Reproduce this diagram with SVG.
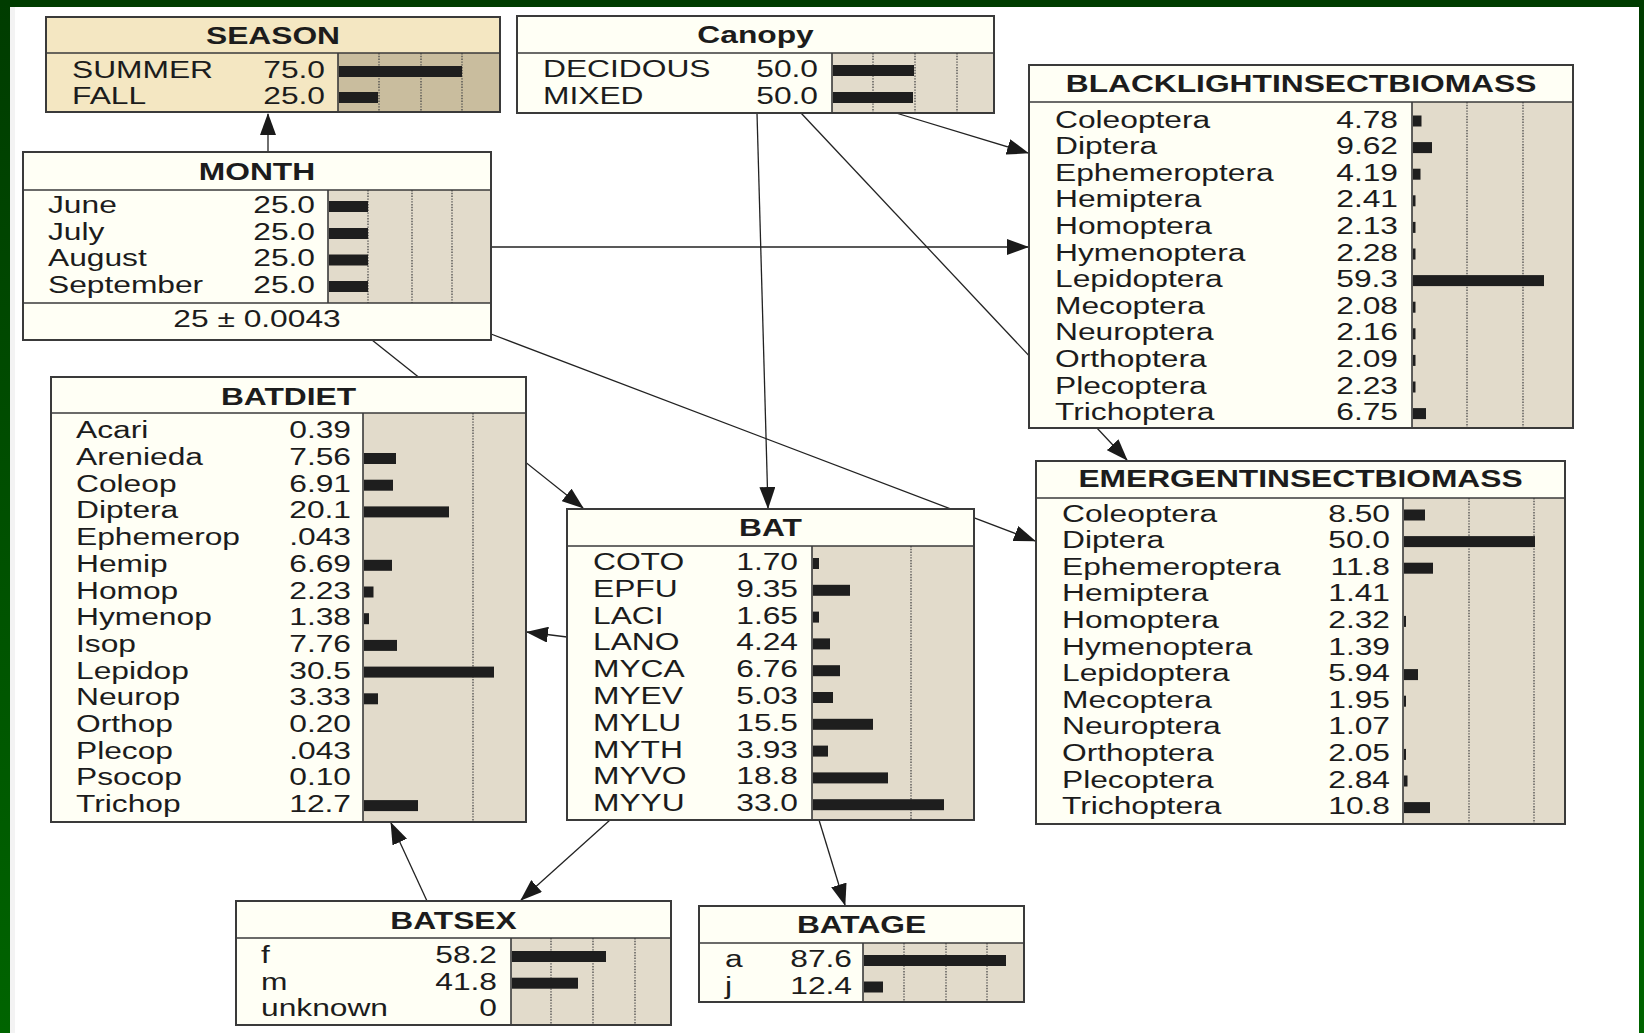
<svg xmlns="http://www.w3.org/2000/svg" width="1644" height="1033" viewBox="0 0 1644 1033">
  <defs>
    <linearGradient id="edgeGreen" x1="0" y1="0" x2="0" y2="1">
      <stop offset="0" stop-color="#003c00"/>
      <stop offset="1" stop-color="#006400"/>
    </linearGradient>
    <marker id="arrow" markerUnits="userSpaceOnUse" markerWidth="22" markerHeight="16" refX="21" refY="8" orient="auto">
      <path d="M0,0 L22,8 L0,16 Z" fill="#1a1a1a"/>
    </marker>
    <style>
      .bx { fill: none; stroke: #3a3a3a; stroke-width: 2; }
      .cream { fill: #fffff5; }
      .tan { fill: #f4e7c2; }
      .barbg { fill: #e2dbcb; }
      .barbg-tan { fill: #c9bd9e; }
      .sep { stroke: #3a3a3a; stroke-width: 1.6; }
      .grid { stroke: #4a4a4a; stroke-width: 1.3; stroke-dasharray: 1.4 1.4; }
      .bar { fill: #1e1e1e; }
      text { font-family: "Liberation Sans", Arial, sans-serif; font-size: 23px; fill: #1c1c1c; }
      .v { text-anchor: end; }
      .ttl { font-weight: bold; text-anchor: middle; }
      .mid { text-anchor: middle; }
      .edge { fill: none; stroke: #222; stroke-width: 1.3; marker-end: url(#arrow); }
      .edge-plain { fill: none; stroke: #222; stroke-width: 1.3; }
    </style>
  </defs>

  <!-- slide background and frame -->
  <rect x="0" y="0" width="1644" height="1033" fill="#ffffff"/>
  <rect x="0" y="0" width="1644" height="7" fill="#003c00"/>
  <rect x="0" y="0" width="10" height="1033" fill="url(#edgeGreen)"/>
  <rect x="10" y="7" width="5" height="1026" fill="#f3f3f3"/>
  <rect x="1639" y="0" width="5" height="1033" fill="url(#edgeGreen)"/>

  <!-- links between nodes -->
  <g id="connectors">
    <line class="edge" x1="268" y1="152" x2="268" y2="114"/>
    <line class="edge" x1="896" y1="113" x2="1028" y2="153"/>
    <line class="edge" x1="491" y1="247" x2="1028" y2="247"/>
    <line class="edge" x1="757" y1="113" x2="768" y2="508"/>
    <line class="edge" x1="801" y1="113" x2="1127" y2="460"/>
    <line class="edge" x1="372" y1="340" x2="583" y2="508"/>
    <line class="edge" x1="491" y1="334" x2="1035" y2="541"/>
    <line class="edge" x1="567" y1="637" x2="527" y2="632"/>
    <line class="edge" x1="610" y1="820" x2="521" y2="900"/>
    <line class="edge" x1="427" y1="901" x2="391" y2="823"/>
    <line class="edge" x1="819" y1="820" x2="845" y2="905"/>
  </g>

  <!-- SEASON -->
  <g id="node-season">
    <rect x="46" y="17" width="454" height="95" class="tan"/>
    <rect x="338" y="53" width="162" height="59" class="barbg-tan"/>
    <line class="grid" x1="379" y1="53" x2="379" y2="112"/>
    <line class="grid" x1="421" y1="53" x2="421" y2="112"/>
    <line class="grid" x1="462" y1="53" x2="462" y2="112"/>
    <rect class="bar" x="339" y="66" width="123" height="11"/>
    <rect class="bar" x="339" y="92" width="39" height="11"/>
    <line class="sep" x1="46" y1="53" x2="500" y2="53"/>
    <line class="sep" x1="338" y1="53" x2="338" y2="112"/>
    <rect x="46" y="17" width="454" height="95" class="bx"/>
    <text class="ttl" transform="translate(273 44) scale(1.38 1)">SEASON</text>
    <text transform="translate(72 78) scale(1.38 1)">SUMMER</text>
    <text class="v" transform="translate(325 78) scale(1.38 1)">75.0</text>
    <text transform="translate(72 104) scale(1.38 1)">FALL</text>
    <text class="v" transform="translate(325 104) scale(1.38 1)">25.0</text>
  </g>

  <!-- Canopy -->
  <g id="node-canopy">
    <rect x="517" y="16" width="477" height="97" class="cream"/>
    <rect x="832" y="53" width="162" height="60" class="barbg"/>
    <line class="grid" x1="873" y1="53" x2="873" y2="113"/>
    <line class="grid" x1="915" y1="53" x2="915" y2="113"/>
    <line class="grid" x1="957" y1="53" x2="957" y2="113"/>
    <rect class="bar" x="833" y="65" width="81" height="11"/>
    <rect class="bar" x="833" y="92" width="80" height="11"/>
    <line class="sep" x1="517" y1="53" x2="994" y2="53"/>
    <line class="sep" x1="832" y1="53" x2="832" y2="113"/>
    <rect x="517" y="16" width="477" height="97" class="bx"/>
    <text class="ttl" transform="translate(755.5 43) scale(1.38 1)">Canopy</text>
    <text transform="translate(543 77) scale(1.38 1)">DECIDOUS</text>
    <text class="v" transform="translate(818 77) scale(1.38 1)">50.0</text>
    <text transform="translate(543 104) scale(1.38 1)">MIXED</text>
    <text class="v" transform="translate(818 104) scale(1.38 1)">50.0</text>
  </g>

  <!-- MONTH -->
  <g id="node-month">
    <rect x="23" y="152" width="468" height="188" class="cream"/>
    <rect x="328" y="190" width="163" height="113" class="barbg"/>
    <line class="grid" x1="368" y1="190" x2="368" y2="303"/>
    <line class="grid" x1="412" y1="190" x2="412" y2="303"/>
    <line class="grid" x1="452" y1="190" x2="452" y2="303"/>
    <rect class="bar" x="329" y="201" width="39" height="11"/>
    <rect class="bar" x="329" y="228" width="39" height="11"/>
    <rect class="bar" x="329" y="254.5" width="39" height="11"/>
    <rect class="bar" x="329" y="281" width="39" height="11"/>
    <line class="sep" x1="23" y1="190" x2="491" y2="190"/>
    <line class="sep" x1="23" y1="303" x2="491" y2="303"/>
    <line class="sep" x1="328" y1="190" x2="328" y2="303"/>
    <rect x="23" y="152" width="468" height="188" class="bx"/>
    <text class="ttl" transform="translate(257 180) scale(1.38 1)">MONTH</text>
    <text transform="translate(48 213) scale(1.38 1)">June</text>
    <text class="v" transform="translate(315 213) scale(1.38 1)">25.0</text>
    <text transform="translate(48 239.7) scale(1.38 1)">July</text>
    <text class="v" transform="translate(315 239.7) scale(1.38 1)">25.0</text>
    <text transform="translate(48 266.4) scale(1.38 1)">August</text>
    <text class="v" transform="translate(315 266.4) scale(1.38 1)">25.0</text>
    <text transform="translate(48 293) scale(1.38 1)">September</text>
    <text class="v" transform="translate(315 293) scale(1.38 1)">25.0</text>
    <text class="mid" transform="translate(257 327) scale(1.38 1)">25 ± 0.0043</text>
  </g>

  <!-- BLACKLIGHTINSECTBIOMASS -->
  <g id="node-blacklight">
    <rect x="1029" y="65" width="544" height="363" class="cream"/>
    <rect x="1412" y="102" width="161" height="326" class="barbg"/>
    <line class="grid" x1="1467" y1="102" x2="1467" y2="428"/>
    <line class="grid" x1="1523" y1="102" x2="1523" y2="428"/>
    <rect class="bar" x="1413" y="115.5" width="8.5" height="11"/>
    <rect class="bar" x="1413" y="142.1" width="19" height="11"/>
    <rect class="bar" x="1413" y="168.7" width="7.5" height="11"/>
    <rect class="bar" x="1413" y="195.3" width="2.5" height="11"/>
    <rect class="bar" x="1413" y="221.9" width="2.5" height="11"/>
    <rect class="bar" x="1413" y="248.5" width="2.5" height="11"/>
    <rect class="bar" x="1413" y="275.1" width="131" height="11"/>
    <rect class="bar" x="1413" y="301.7" width="2.5" height="11"/>
    <rect class="bar" x="1413" y="328.3" width="2.5" height="11"/>
    <rect class="bar" x="1413" y="354.9" width="2.5" height="11"/>
    <rect class="bar" x="1413" y="381.5" width="2.5" height="11"/>
    <rect class="bar" x="1413" y="408.1" width="13" height="11"/>
    <line class="sep" x1="1029" y1="102" x2="1573" y2="102"/>
    <line class="sep" x1="1412" y1="102" x2="1412" y2="428"/>
    <rect x="1029" y="65" width="544" height="363" class="bx"/>
    <text class="ttl" transform="translate(1301 92) scale(1.38 1)">BLACKLIGHTINSECTBIOMASS</text>
    <text transform="translate(1055 127.5) scale(1.38 1)">Coleoptera</text>
    <text class="v" transform="translate(1398 127.5) scale(1.38 1)">4.78</text>
    <text transform="translate(1055 154.1) scale(1.38 1)">Diptera</text>
    <text class="v" transform="translate(1398 154.1) scale(1.38 1)">9.62</text>
    <text transform="translate(1055 180.7) scale(1.38 1)">Ephemeroptera</text>
    <text class="v" transform="translate(1398 180.7) scale(1.38 1)">4.19</text>
    <text transform="translate(1055 207.3) scale(1.38 1)">Hemiptera</text>
    <text class="v" transform="translate(1398 207.3) scale(1.38 1)">2.41</text>
    <text transform="translate(1055 233.9) scale(1.38 1)">Homoptera</text>
    <text class="v" transform="translate(1398 233.9) scale(1.38 1)">2.13</text>
    <text transform="translate(1055 260.5) scale(1.38 1)">Hymenoptera</text>
    <text class="v" transform="translate(1398 260.5) scale(1.38 1)">2.28</text>
    <text transform="translate(1055 287.1) scale(1.38 1)">Lepidoptera</text>
    <text class="v" transform="translate(1398 287.1) scale(1.38 1)">59.3</text>
    <text transform="translate(1055 313.7) scale(1.38 1)">Mecoptera</text>
    <text class="v" transform="translate(1398 313.7) scale(1.38 1)">2.08</text>
    <text transform="translate(1055 340.3) scale(1.38 1)">Neuroptera</text>
    <text class="v" transform="translate(1398 340.3) scale(1.38 1)">2.16</text>
    <text transform="translate(1055 366.9) scale(1.38 1)">Orthoptera</text>
    <text class="v" transform="translate(1398 366.9) scale(1.38 1)">2.09</text>
    <text transform="translate(1055 393.5) scale(1.38 1)">Plecoptera</text>
    <text class="v" transform="translate(1398 393.5) scale(1.38 1)">2.23</text>
    <text transform="translate(1055 420.1) scale(1.38 1)">Trichoptera</text>
    <text class="v" transform="translate(1398 420.1) scale(1.38 1)">6.75</text>
  </g>

  <!-- EMERGENTINSECTBIOMASS -->
  <g id="node-emergent">
    <rect x="1036" y="461" width="529" height="363" class="cream"/>
    <rect x="1403" y="498" width="162" height="326" class="barbg"/>
    <line class="grid" x1="1469" y1="498" x2="1469" y2="824"/>
    <line class="grid" x1="1534" y1="498" x2="1534" y2="824"/>
    <rect class="bar" x="1404" y="509.5" width="21" height="11"/>
    <rect class="bar" x="1404" y="536.1" width="131" height="11"/>
    <rect class="bar" x="1404" y="562.7" width="29" height="11"/>
    <rect class="bar" x="1404" y="615.9" width="2" height="11"/>
    <rect class="bar" x="1404" y="669.1" width="14" height="11"/>
    <rect class="bar" x="1404" y="695.7" width="2" height="11"/>
    <rect class="bar" x="1404" y="748.9" width="2" height="11"/>
    <rect class="bar" x="1404" y="775.5" width="3.5" height="11"/>
    <rect class="bar" x="1404" y="802.1" width="26" height="11"/>
    <line class="sep" x1="1036" y1="498" x2="1565" y2="498"/>
    <line class="sep" x1="1403" y1="498" x2="1403" y2="824"/>
    <rect x="1036" y="461" width="529" height="363" class="bx"/>
    <text class="ttl" transform="translate(1300.5 487) scale(1.38 1)">EMERGENTINSECTBIOMASS</text>
    <text transform="translate(1062 521.5) scale(1.38 1)">Coleoptera</text>
    <text class="v" transform="translate(1390 521.5) scale(1.38 1)">8.50</text>
    <text transform="translate(1062 548.1) scale(1.38 1)">Diptera</text>
    <text class="v" transform="translate(1390 548.1) scale(1.38 1)">50.0</text>
    <text transform="translate(1062 574.7) scale(1.38 1)">Ephemeroptera</text>
    <text class="v" transform="translate(1390 574.7) scale(1.38 1)">11.8</text>
    <text transform="translate(1062 601.3) scale(1.38 1)">Hemiptera</text>
    <text class="v" transform="translate(1390 601.3) scale(1.38 1)">1.41</text>
    <text transform="translate(1062 627.9) scale(1.38 1)">Homoptera</text>
    <text class="v" transform="translate(1390 627.9) scale(1.38 1)">2.32</text>
    <text transform="translate(1062 654.5) scale(1.38 1)">Hymenoptera</text>
    <text class="v" transform="translate(1390 654.5) scale(1.38 1)">1.39</text>
    <text transform="translate(1062 681.1) scale(1.38 1)">Lepidoptera</text>
    <text class="v" transform="translate(1390 681.1) scale(1.38 1)">5.94</text>
    <text transform="translate(1062 707.7) scale(1.38 1)">Mecoptera</text>
    <text class="v" transform="translate(1390 707.7) scale(1.38 1)">1.95</text>
    <text transform="translate(1062 734.3) scale(1.38 1)">Neuroptera</text>
    <text class="v" transform="translate(1390 734.3) scale(1.38 1)">1.07</text>
    <text transform="translate(1062 760.9) scale(1.38 1)">Orthoptera</text>
    <text class="v" transform="translate(1390 760.9) scale(1.38 1)">2.05</text>
    <text transform="translate(1062 787.5) scale(1.38 1)">Plecoptera</text>
    <text class="v" transform="translate(1390 787.5) scale(1.38 1)">2.84</text>
    <text transform="translate(1062 814.1) scale(1.38 1)">Trichoptera</text>
    <text class="v" transform="translate(1390 814.1) scale(1.38 1)">10.8</text>
  </g>

  <!-- BATDIET -->
  <g id="node-batdiet">
    <rect x="51" y="377" width="475" height="445" class="cream"/>
    <rect x="363" y="413" width="163" height="409" class="barbg"/>
    <line class="grid" x1="473" y1="413" x2="473" y2="822"/>
    <rect class="bar" x="364" y="453" width="32" height="11"/>
    <rect class="bar" x="364" y="479.7" width="29" height="11"/>
    <rect class="bar" x="364" y="506.4" width="85" height="11"/>
    <rect class="bar" x="364" y="559.8" width="28" height="11"/>
    <rect class="bar" x="364" y="586.5" width="9.5" height="11"/>
    <rect class="bar" x="364" y="613.2" width="5" height="11"/>
    <rect class="bar" x="364" y="639.9" width="33" height="11"/>
    <rect class="bar" x="364" y="666.6" width="130" height="11"/>
    <rect class="bar" x="364" y="693.3" width="14" height="11"/>
    <rect class="bar" x="364" y="800.1" width="54" height="11"/>
    <line class="sep" x1="51" y1="413" x2="526" y2="413"/>
    <line class="sep" x1="363" y1="413" x2="363" y2="822"/>
    <rect x="51" y="377" width="475" height="445" class="bx"/>
    <text class="ttl" transform="translate(288.5 405) scale(1.38 1)">BATDIET</text>
    <text transform="translate(76 438.3) scale(1.38 1)">Acari</text>
    <text class="v" transform="translate(351 438.3) scale(1.38 1)">0.39</text>
    <text transform="translate(76 465) scale(1.38 1)">Arenieda</text>
    <text class="v" transform="translate(351 465) scale(1.38 1)">7.56</text>
    <text transform="translate(76 491.7) scale(1.38 1)">Coleop</text>
    <text class="v" transform="translate(351 491.7) scale(1.38 1)">6.91</text>
    <text transform="translate(76 518.4) scale(1.38 1)">Diptera</text>
    <text class="v" transform="translate(351 518.4) scale(1.38 1)">20.1</text>
    <text transform="translate(76 545.1) scale(1.38 1)">Ephemerop</text>
    <text class="v" transform="translate(351 545.1) scale(1.38 1)">.043</text>
    <text transform="translate(76 571.8) scale(1.38 1)">Hemip</text>
    <text class="v" transform="translate(351 571.8) scale(1.38 1)">6.69</text>
    <text transform="translate(76 598.5) scale(1.38 1)">Homop</text>
    <text class="v" transform="translate(351 598.5) scale(1.38 1)">2.23</text>
    <text transform="translate(76 625.2) scale(1.38 1)">Hymenop</text>
    <text class="v" transform="translate(351 625.2) scale(1.38 1)">1.38</text>
    <text transform="translate(76 651.9) scale(1.38 1)">Isop</text>
    <text class="v" transform="translate(351 651.9) scale(1.38 1)">7.76</text>
    <text transform="translate(76 678.6) scale(1.38 1)">Lepidop</text>
    <text class="v" transform="translate(351 678.6) scale(1.38 1)">30.5</text>
    <text transform="translate(76 705.3) scale(1.38 1)">Neurop</text>
    <text class="v" transform="translate(351 705.3) scale(1.38 1)">3.33</text>
    <text transform="translate(76 732) scale(1.38 1)">Orthop</text>
    <text class="v" transform="translate(351 732) scale(1.38 1)">0.20</text>
    <text transform="translate(76 758.7) scale(1.38 1)">Plecop</text>
    <text class="v" transform="translate(351 758.7) scale(1.38 1)">.043</text>
    <text transform="translate(76 785.4) scale(1.38 1)">Psocop</text>
    <text class="v" transform="translate(351 785.4) scale(1.38 1)">0.10</text>
    <text transform="translate(76 812.1) scale(1.38 1)">Trichop</text>
    <text class="v" transform="translate(351 812.1) scale(1.38 1)">12.7</text>
  </g>

  <!-- BAT -->
  <g id="node-bat">
    <rect x="567" y="509" width="407" height="311" class="cream"/>
    <rect x="812" y="546" width="162" height="274" class="barbg"/>
    <line class="grid" x1="911" y1="546" x2="911" y2="820"/>
    <rect class="bar" x="813" y="558" width="6" height="11"/>
    <rect class="bar" x="813" y="584.8" width="37" height="11"/>
    <rect class="bar" x="813" y="611.6" width="6" height="11"/>
    <rect class="bar" x="813" y="638.4" width="17" height="11"/>
    <rect class="bar" x="813" y="665.2" width="27" height="11"/>
    <rect class="bar" x="813" y="692" width="20" height="11"/>
    <rect class="bar" x="813" y="718.8" width="60" height="11"/>
    <rect class="bar" x="813" y="745.6" width="15" height="11"/>
    <rect class="bar" x="813" y="772.4" width="75" height="11"/>
    <rect class="bar" x="813" y="799.2" width="131" height="11"/>
    <line class="sep" x1="567" y1="546" x2="974" y2="546"/>
    <line class="sep" x1="812" y1="546" x2="812" y2="820"/>
    <rect x="567" y="509" width="407" height="311" class="bx"/>
    <text class="ttl" transform="translate(770.5 536) scale(1.38 1)">BAT</text>
    <text transform="translate(593 570) scale(1.38 1)">COTO</text>
    <text class="v" transform="translate(798 570) scale(1.38 1)">1.70</text>
    <text transform="translate(593 596.8) scale(1.38 1)">EPFU</text>
    <text class="v" transform="translate(798 596.8) scale(1.38 1)">9.35</text>
    <text transform="translate(593 623.6) scale(1.38 1)">LACI</text>
    <text class="v" transform="translate(798 623.6) scale(1.38 1)">1.65</text>
    <text transform="translate(593 650.4) scale(1.38 1)">LANO</text>
    <text class="v" transform="translate(798 650.4) scale(1.38 1)">4.24</text>
    <text transform="translate(593 677.2) scale(1.38 1)">MYCA</text>
    <text class="v" transform="translate(798 677.2) scale(1.38 1)">6.76</text>
    <text transform="translate(593 704) scale(1.38 1)">MYEV</text>
    <text class="v" transform="translate(798 704) scale(1.38 1)">5.03</text>
    <text transform="translate(593 730.8) scale(1.38 1)">MYLU</text>
    <text class="v" transform="translate(798 730.8) scale(1.38 1)">15.5</text>
    <text transform="translate(593 757.6) scale(1.38 1)">MYTH</text>
    <text class="v" transform="translate(798 757.6) scale(1.38 1)">3.93</text>
    <text transform="translate(593 784.4) scale(1.38 1)">MYVO</text>
    <text class="v" transform="translate(798 784.4) scale(1.38 1)">18.8</text>
    <text transform="translate(593 811.2) scale(1.38 1)">MYYU</text>
    <text class="v" transform="translate(798 811.2) scale(1.38 1)">33.0</text>
  </g>

  <!-- BATSEX -->
  <g id="node-batsex">
    <rect x="236" y="901" width="435" height="124" class="cream"/>
    <rect x="511" y="938" width="160" height="87" class="barbg"/>
    <line class="grid" x1="551" y1="938" x2="551" y2="1025"/>
    <line class="grid" x1="593" y1="938" x2="593" y2="1025"/>
    <line class="grid" x1="635" y1="938" x2="635" y2="1025"/>
    <rect class="bar" x="512" y="951" width="94" height="11"/>
    <rect class="bar" x="512" y="977.7" width="66" height="11"/>
    <line class="sep" x1="236" y1="938" x2="671" y2="938"/>
    <line class="sep" x1="511" y1="938" x2="511" y2="1025"/>
    <rect x="236" y="901" width="435" height="124" class="bx"/>
    <text class="ttl" transform="translate(453.5 929) scale(1.38 1)">BATSEX</text>
    <text transform="translate(261 963) scale(1.38 1)">f</text>
    <text class="v" transform="translate(497 963) scale(1.38 1)">58.2</text>
    <text transform="translate(261 989.7) scale(1.38 1)">m</text>
    <text class="v" transform="translate(497 989.7) scale(1.38 1)">41.8</text>
    <text transform="translate(261 1016.4) scale(1.38 1)">unknown</text>
    <text class="v" transform="translate(497 1016.4) scale(1.38 1)">0</text>
  </g>

  <!-- BATAGE -->
  <g id="node-batage">
    <rect x="699" y="906" width="325" height="96" class="cream"/>
    <rect x="863" y="943" width="161" height="59" class="barbg"/>
    <line class="grid" x1="904" y1="943" x2="904" y2="1002"/>
    <line class="grid" x1="946" y1="943" x2="946" y2="1002"/>
    <line class="grid" x1="987" y1="943" x2="987" y2="1002"/>
    <rect class="bar" x="864" y="955" width="142" height="11"/>
    <rect class="bar" x="864" y="981.5" width="19" height="11"/>
    <line class="sep" x1="699" y1="943" x2="1024" y2="943"/>
    <line class="sep" x1="863" y1="943" x2="863" y2="1002"/>
    <rect x="699" y="906" width="325" height="96" class="bx"/>
    <text class="ttl" transform="translate(861.5 933) scale(1.38 1)">BATAGE</text>
    <text transform="translate(725 967) scale(1.38 1)">a</text>
    <text class="v" transform="translate(852 967) scale(1.38 1)">87.6</text>
    <text transform="translate(725 993.5) scale(1.38 1)">j</text>
    <text class="v" transform="translate(852 993.5) scale(1.38 1)">12.4</text>
  </g>
</svg>
